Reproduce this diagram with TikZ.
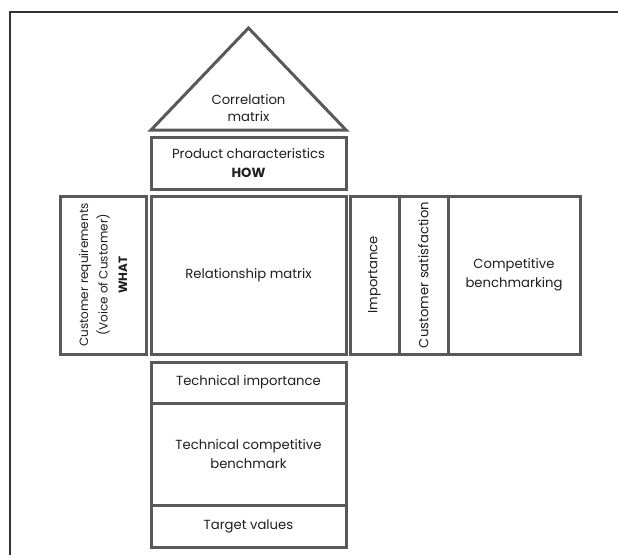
\documentclass[tikz,border=0pt]{standalone}
\usepackage{fontspec}
\setmainfont{Poppins}
\begin{document}
\begin{tikzpicture}[x=1pt,y=-1pt,
  box/.style={draw=black!65, line width=3pt, rectangle, inner sep=0pt, outer sep=0pt,
    align=center, font=\fontsize{13.2}{19.5}\selectfont, text=black!88},
  frameline/.style={draw=black!80, line width=1.4pt},
  label/.style={align=center, font=\fontsize{13.2}{17.5}\selectfont, text=black!88, inner sep=0pt}]
\useasboundingbox (0,0) rectangle (618,555);
\fill[white] (0,0) rectangle (618,555);
\draw[frameline] (10,555) -- (10,12) -- (618,12);
% roof
\coordinate (apex) at (248.5,28);
\coordinate (bl) at (151,130);
\coordinate (br) at (346,130);
\draw[draw=black!65, line width=3pt, line join=miter] (bl) -- (apex) -- (br) -- cycle;
\node[label] (corr) at (248.5,108) {Correlation\\matrix};
% how
\node[box, minimum width=195, minimum height=52] (pc) at (248.5,163)
  {Product characteristics\\\textbf{HOW}};
% what
\node[box, rotate=90, minimum width=158, minimum height=86, font=\fontsize{12}{19.5}\selectfont] (cr) at (103,275)
  {Customer requirements\\(Voice of Customer)\\\textbf{WHAT}};
% relationship
\node[box, minimum width=195, minimum height=158] (rm) at (248.5,275) {Relationship matrix};
% right side
\node[box, rotate=90, minimum width=158, minimum height=49] (imp) at (374.5,275) {Importance};
\node[box, rotate=90, minimum width=158, minimum height=49] (cs) at (423.5,275) {Customer satisfaction};
\node[box, minimum width=132, minimum height=158] (cb) at (514,275) {Competitive\\benchmarking};
% basement
\node[box, minimum width=195, minimum height=41] (ti) at (248.5,382.5) {Technical importance};
\node[box, minimum width=195, minimum height=102] (tcb) at (248.5,454) {Technical competitive\\benchmark};
\node[box, minimum width=195, minimum height=42] (tv) at (248.5,526) {Target values};
\end{tikzpicture}
\end{document}
